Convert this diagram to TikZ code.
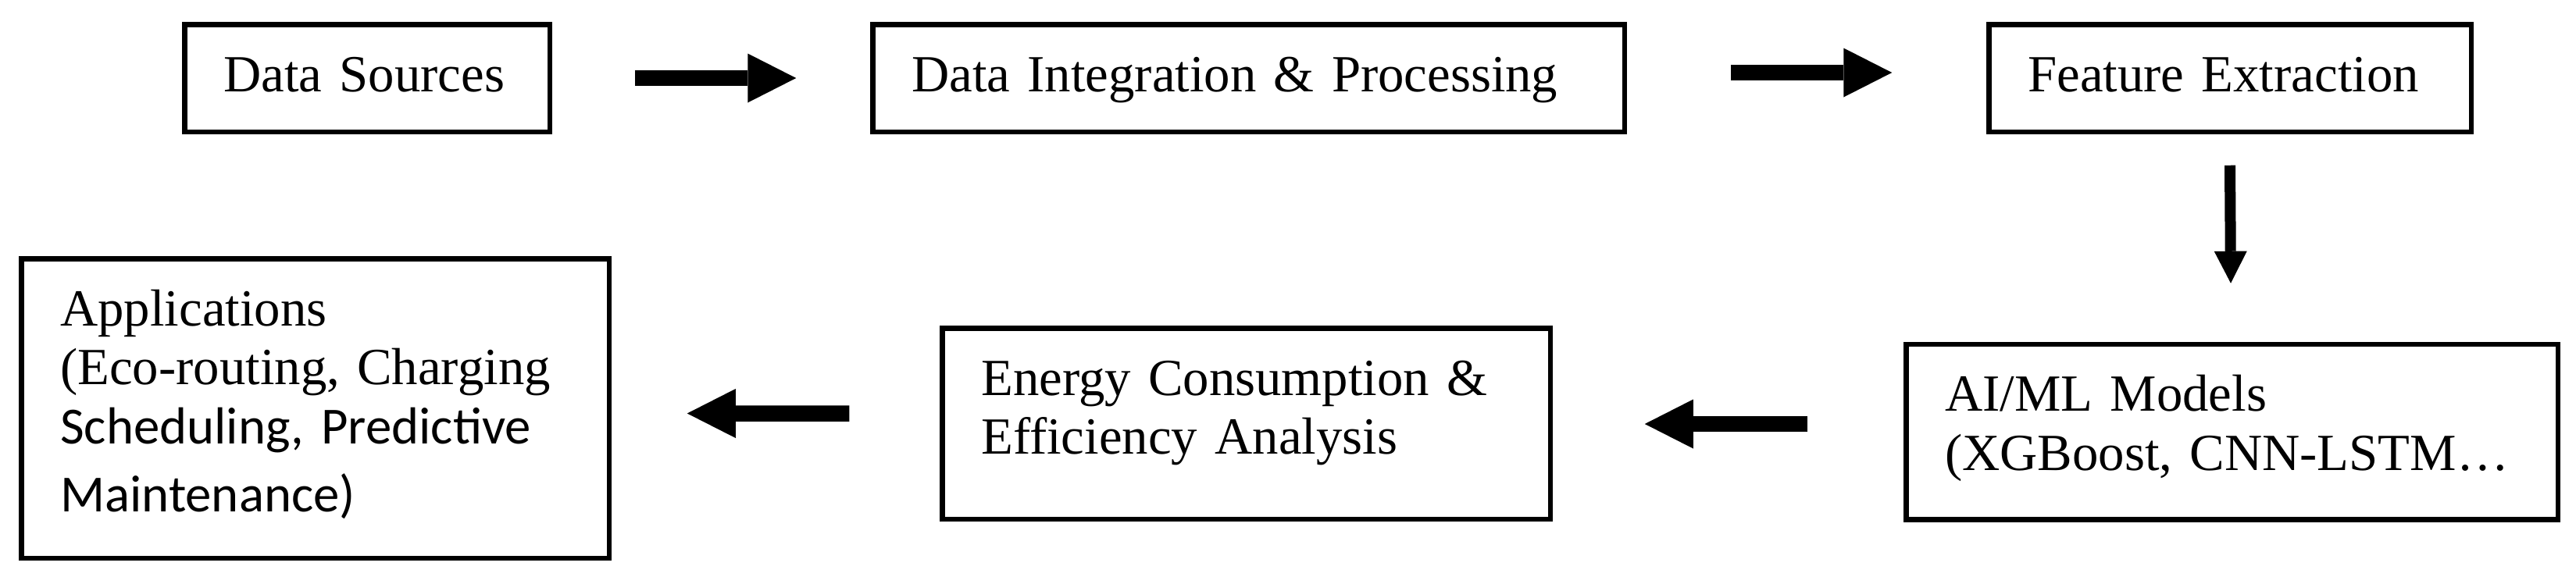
\documentclass[tikz,border=0pt]{standalone}
\usepackage{fontspec}
\setmainfont{Liberation Serif}
\newfontfamily\calfont{Carlito}
\usetikzlibrary{arrows.meta}

\tikzset{
  stage/.style={draw, line width=0.065cm, inner xsep=0.5cm, inner ysep=0pt, outer sep=0pt,
    align=left, font=\fontsize{19pt}{21.6pt}\selectfont},
  flow/.style={line width=0.205cm, -{Triangle[length=0.62cm,width=0.63cm,line width=0pt]}},
  drop/.style={line width=0.14cm, -{Triangle[length=0.41cm,width=0.42cm,line width=0pt]}}
}

\begin{document}
\begin{tikzpicture}
\useasboundingbox (0,0) rectangle (32.98,-7.47);

\node [stage, minimum width=4.675cm, minimum height=1.375cm, text width=3.675cm, text height=0.34cm, text depth=0pt] (src) at (4.70,-1.00) {Data Sources};
\node [stage, minimum width=9.625cm, minimum height=1.375cm, text width=8.625cm, text height=0.34cm, text depth=0pt] (integ) at (15.985,-1.00) {Data Integration \& Processing};
\node [stage, minimum width=6.175cm, minimum height=1.375cm, text width=5.175cm, text height=0.34cm, text depth=0pt] (feat) at (28.55,-1.00) {Feature Extraction};

\node [stage, minimum width=8.345cm, minimum height=2.245cm, text width=7.345cm, text height=0pt, text depth=0.535cm] (ai) at (28.575,-5.53) {AI/ML Models\\(XGBoost, CNN-LSTM…};
\node [stage, minimum width=7.785cm, minimum height=2.445cm, text width=6.785cm, text height=0pt, text depth=0.73cm] (energy) at (15.955,-5.425) {Energy Consumption \&\\Efficiency Analysis};
\node [stage, minimum width=7.525cm, minimum height=3.835cm, text width=6.525cm, text height=0pt, text depth=2.12cm] (app) at (4.035,-5.23) {Applications\\(Eco-routing, Charging\\\calfont Scheduling, Predictive\\[3.15pt]Maintenance)};

\draw [flow] ([xshift=1.09cm]src.east) -- ([xshift=-0.98cm]integ.west);
\draw [flow] ([xshift=1.36cm,yshift=0.07cm]integ.east) -- ([xshift=-1.24cm,yshift=0.07cm]feat.west);
\draw [drop] ([yshift=-0.43cm]feat.south) -- ([xshift=-0.015cm,yshift=0.78cm]ai.north);
\draw [flow] ([xshift=-1.26cm,yshift=0.10cm]ai.west) -- ([xshift=1.21cm,yshift=0.10cm]energy.east |- ai.west);
\draw [flow] ([xshift=-1.19cm,yshift=0.13cm]energy.west) -- ([xshift=1.00cm,yshift=-0.065cm]app.east);
\end{tikzpicture}
\end{document}
